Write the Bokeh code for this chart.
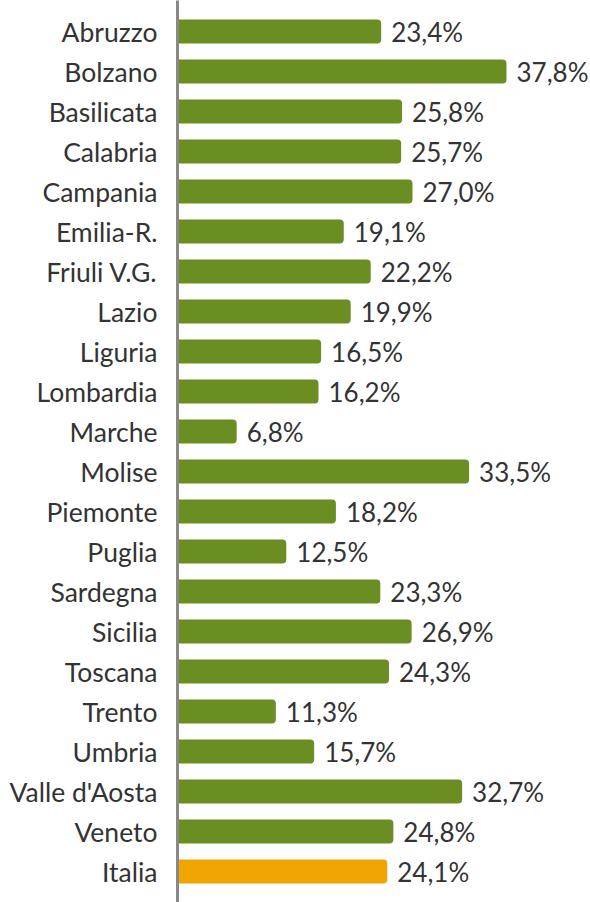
from bokeh.plotting import figure
from bokeh.models import ColumnDataSource, FactorRange
from bokeh.core.properties import value
from bokeh.embed import file_html
from bokeh.resources import INLINE

regions = ["Abruzzo", "Bolzano", "Basilicata", "Calabria", "Campania", "Emilia-R.",
           "Friuli V.G.", "Lazio", "Liguria", "Lombardia", "Marche", "Molise",
           "Piemonte", "Puglia", "Sardegna", "Sicilia", "Toscana", "Trento",
           "Umbria", "Valle d'Aosta", "Veneto", "Italia"]
values = [23.4, 37.8, 25.8, 25.7, 27.0, 19.1, 22.2, 19.9, 16.5, 16.2, 6.8, 33.5,
          18.2, 12.5, 23.3, 26.9, 24.3, 11.3, 15.7, 32.7, 24.8, 24.1]

GREEN = "#6b8e23"
ORANGE = "#f0a500"

colors = [ORANGE if r == "Italia" else GREEN for r in regions]
labels = [f"{v:.1f}".replace(".", ",") + "%" for v in values]

src = ColumnDataSource(dict(y=regions, x=values, color=colors, label=labels))

yr = FactorRange(factors=list(reversed(regions)), range_padding=0.275,
                 range_padding_units="absolute")

p = figure(width=590, height=902, y_range=yr, x_range=(0, 47.45),
           output_backend="svg", toolbar_location=None,
           min_border_left=177, min_border_right=0, min_border_top=0, min_border_bottom=0)

p.hbar(y="y", right="x", left=0, height=0.6, color="color", source=src,
       line_color=None, border_radius=(0, 4, 4, 0))
p.text(x="x", y="y", text="label", source=src, x_offset=10,
       text_baseline="middle", text_align="left",
       text_font=value("Lato"), text_font_size="26px", text_color="#333333")

p.xaxis.visible = False
p.xgrid.visible = False
p.ygrid.visible = False
p.outline_line_color = None

ax = p.yaxis[0]
ax.axis_line_color = "#888888"
ax.axis_line_width = 3
ax.major_tick_line_color = None
ax.minor_tick_line_color = None
ax.major_tick_out = 0
ax.major_tick_in = 0
ax.major_label_standoff = 20
ax.major_label_text_font = "Lato"
ax.major_label_text_font_size = "26.5px"
ax.major_label_text_color = "#333333"

open("out.html", "w").write(file_html(p, INLINE))
